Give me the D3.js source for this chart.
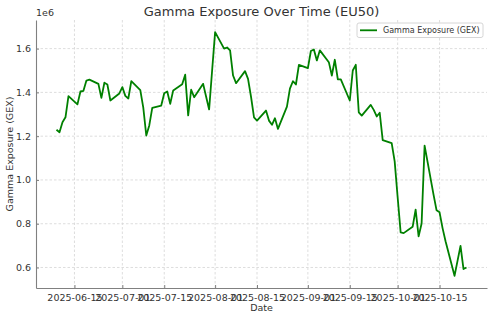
<!DOCTYPE html>
<html>
<head>
<meta charset="utf-8">
<script src="https://cdn.jsdelivr.net/npm/d3@7"></script>
<style>
  body { margin: 0; background: #fff; }
  text { font-family: "DejaVu Sans", sans-serif; }
</style>
</head>
<body>
<script>
const dates = [
  "2025-06-09","2025-06-10","2025-06-11","2025-06-12","2025-06-13",
  "2025-06-16","2025-06-17","2025-06-18","2025-06-19","2025-06-20",
  "2025-06-23","2025-06-24","2025-06-25","2025-06-26","2025-06-27",
  "2025-06-30","2025-07-01","2025-07-02","2025-07-03","2025-07-04",
  "2025-07-07","2025-07-08","2025-07-09","2025-07-10","2025-07-11",
  "2025-07-14","2025-07-15","2025-07-16","2025-07-17","2025-07-18",
  "2025-07-21","2025-07-22","2025-07-23","2025-07-24","2025-07-25",
  "2025-07-28","2025-07-29","2025-07-30","2025-07-31","2025-08-01",
  "2025-08-04","2025-08-05","2025-08-06","2025-08-07","2025-08-08",
  "2025-08-11","2025-08-12","2025-08-13","2025-08-14","2025-08-15",
  "2025-08-18","2025-08-19","2025-08-20","2025-08-21","2025-08-22",
  "2025-08-25","2025-08-26","2025-08-27","2025-08-28","2025-08-29",
  "2025-09-01","2025-09-02","2025-09-03","2025-09-04","2025-09-05",
  "2025-09-08","2025-09-09","2025-09-10","2025-09-11","2025-09-12",
  "2025-09-15","2025-09-16","2025-09-17","2025-09-18","2025-09-19",
  "2025-09-22","2025-09-23","2025-09-24","2025-09-25","2025-09-26",
  "2025-09-29","2025-09-30","2025-10-01","2025-10-02","2025-10-03",
  "2025-10-06","2025-10-07","2025-10-08","2025-10-09","2025-10-10",
  "2025-10-13","2025-10-14","2025-10-15","2025-10-16","2025-10-17",
  "2025-10-20","2025-10-21","2025-10-22","2025-10-23","2025-10-24"
]

const gex = [
  1.229e6, 1.218e6, 1.264e6, 1.286e6, 1.383e6,
  1.345e6, 1.404e6, 1.407e6, 1.454e6, 1.458e6,
  1.439e6, 1.375e6, 1.444e6, 1.436e6, 1.363e6,
  1.395e6, 1.424e6, 1.384e6, 1.372e6, 1.451e6,
  1.410e6, 1.330e6, 1.203e6, 1.249e6, 1.329e6,
  1.340e6, 1.396e6, 1.404e6, 1.348e6, 1.409e6,
  1.437e6, 1.481e6, 1.295e6, 1.412e6, 1.378e6,
  1.439e6, 1.380e6, 1.322e6, 1.500e6, 1.675e6,
  1.600e6, 1.605e6, 1.592e6, 1.477e6, 1.442e6,
  1.497e6, 1.462e6, 1.380e6, 1.286e6, 1.271e6,
  1.317e6, 1.271e6, 1.252e6, 1.282e6, 1.233e6,
  1.335e6, 1.417e6, 1.451e6, 1.436e6, 1.526e6,
  1.511e6, 1.589e6, 1.596e6, 1.546e6, 1.592e6,
  1.538e6, 1.477e6, 1.549e6, 1.460e6, 1.459e6,
  1.363e6, 1.500e6, 1.526e6, 1.309e6, 1.294e6,
  1.343e6, 1.320e6, 1.290e6, 1.307e6, 1.182e6,
  1.168e6, 1.085e6, 0.920e6, 0.760e6, 0.757e6,
  0.786e6, 0.864e6, 0.742e6, 0.801e6, 1.157e6,
  0.932e6, 0.861e6, 0.852e6, 0.780e6, 0.720e6,
  0.562e6, 0.630e6, 0.699e6, 0.593e6, 0.600e6
]

const xTicks = ["2025-06-15","2025-07-01","2025-07-15","2025-08-01","2025-08-15",
                "2025-09-01","2025-09-15","2025-10-01","2025-10-15"]
const yTicks = [0.6e6, 0.8e6, 1.0e6, 1.2e6, 1.4e6, 1.6e6]

const width = 492, height = 318
const margin = {left: 36, right: 5, top: 20, bottom: 30}

const parse = d3.utcParse("%Y-%m-%d")
const data = dates.map((d, i) => ({date: parse(d), value: gex[i]}))

const svg = d3.select("body").append("svg")
    .attr("width", width)
    .attr("height", height)

// matplotlib style 5% padding
const pad = (ext) => {
    const r = ext[1] - ext[0]
    return [ext[0] - r * 0.05, ext[1] + r * 0.05]
}
const xExt = d3.extent(data, d => +d.date)
const x = d3.scaleUtc()
    .domain(pad(xExt).map(v => new Date(v)))
    .range([margin.left, width - margin.right])
const y = d3.scaleLinear()
    .domain(pad(d3.extent(gex)))
    .range([height - margin.bottom, margin.top])

const gridColor = "#d4d4d4"

// grid
svg.append("g")
    .selectAll("line")
    .data(xTicks.map(parse))
    .join("line")
    .attr("x1", d => x(d)).attr("x2", d => x(d))
    .attr("y1", margin.top).attr("y2", height - margin.bottom)
    .attr("stroke", gridColor)
    .attr("stroke-width", 0.8)
    .attr("stroke-dasharray", "2.5,2")

svg.append("g")
    .selectAll("line")
    .data(yTicks)
    .join("line")
    .attr("x1", margin.left).attr("x2", width - margin.right)
    .attr("y1", d => y(d)).attr("y2", d => y(d))
    .attr("stroke", gridColor)
    .attr("stroke-width", 0.8)
    .attr("stroke-dasharray", "2.5,2")

// axes
const xAxis = svg.append("g")
    .attr("transform", `translate(0,${height - margin.bottom})`)
    .call(d3.axisBottom(x)
        .tickValues(xTicks.map(parse))
        .tickFormat(d3.utcFormat("%Y-%m-%d"))
        .tickSizeInner(-3).tickSizeOuter(0).tickPadding(6))

const yAxis = svg.append("g")
    .attr("transform", `translate(${margin.left},0)`)
    .call(d3.axisLeft(y)
        .tickValues(yTicks)
        .tickFormat(d => (d / 1e6).toFixed(1))
        .tickSizeInner(-3).tickSizeOuter(0).tickPadding(5))

for (const ax of [xAxis, yAxis]) {
    ax.select(".domain").attr("stroke", "#808080").attr("stroke-width", 1.1)
    ax.selectAll(".tick line").attr("stroke", "#808080")
    ax.selectAll(".tick text")
        .attr("fill", "#333")
        .style("font-size", "9.5px")
        .style("font-family", "DejaVu Sans")
}

// line
svg.append("path")
    .datum(data)
    .attr("fill", "none")
    .attr("stroke", "green")
    .attr("stroke-width", 1.8)
    .attr("stroke-linejoin", "round")
    .attr("d", d3.line().x(d => x(d.date)).y(d => y(d.value)))

// texts
const cx = (margin.left + width - margin.right) / 2
svg.append("text")
    .attr("x", cx).attr("y", 16)
    .attr("text-anchor", "middle")
    .attr("fill", "#333")
    .style("font-size", "13px")
    .text("Gamma Exposure Over Time (EU50)")

svg.append("text")
    .attr("x", margin.left).attr("y", 16)
    .attr("fill", "#333")
    .style("font-size", "9.5px")
    .text("1e6")

svg.append("text")
    .attr("x", cx).attr("y", 311)
    .attr("text-anchor", "middle")
    .attr("fill", "#333")
    .style("font-size", "9.5px")
    .text("Date")

svg.append("text")
    .attr("transform", `translate(13,${(margin.top + height - margin.bottom) / 2}) rotate(-90)`)
    .attr("text-anchor", "middle")
    .attr("fill", "#333")
    .style("font-size", "9.5px")
    .text("Gamma Exposure (GEX)")

// legend
const lg = svg.append("g").attr("transform", "translate(357,23)")
lg.append("rect")
    .attr("width", 126).attr("height", 14.5).attr("rx", 2)
    .attr("fill", "#fff").attr("fill-opacity", 0.8)
    .attr("stroke", "#ccc").attr("stroke-width", 0.8)
lg.append("line")
    .attr("x1", 3).attr("x2", 20).attr("y1", 7.3).attr("y2", 7.3)
    .attr("stroke", "green").attr("stroke-width", 1.8)
lg.append("text")
    .attr("x", 26).attr("y", 10.3)
    .attr("fill", "#333")
    .style("font-size", "8px")
    .text("Gamma Exposure (GEX)")
</script>
</body>
</html>
